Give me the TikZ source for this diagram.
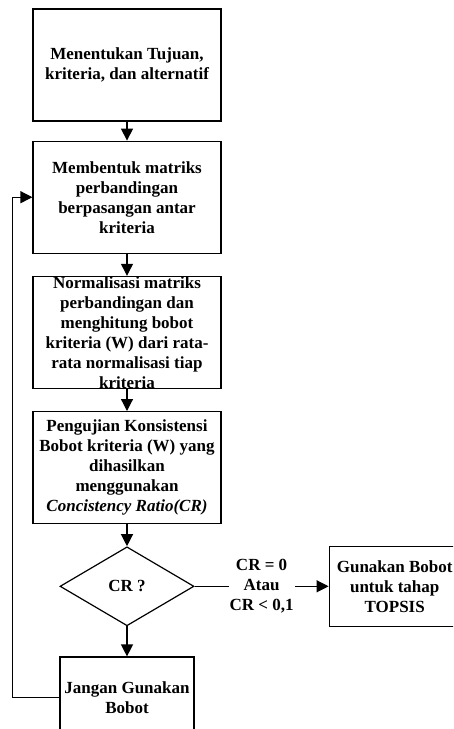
\documentclass[tikz,border=0pt]{standalone}
\usepackage{fontspec}
\setmainfont{Liberation Serif}
\usepackage{tikz}
\usetikzlibrary{positioning, shapes.geometric, arrows.meta}
\tikzstyle{process} = [rectangle, minimum width=188pt, minimum height=112pt, inner sep=0pt, text centered, draw=black, line width=1.2pt]
\tikzstyle{smallbox} = [rectangle, minimum width=134pt, minimum height=81pt, inner sep=0pt, text centered, draw=black, line width=1.2pt]
\tikzstyle{decision} = [diamond, aspect=1.7, minimum width=134pt, minimum height=79pt, inner sep=0pt, text centered, draw=black, line width=1.2pt]
\tikzstyle{plain} = [inner sep=0pt, align=center]
\tikzstyle{arrow} = [line width=1.2pt, -{Triangle[length=12pt, width=12pt]}]

\begin{document}
\begin{tikzpicture}[x=1pt, y=-1pt, font=\fontsize{17}{20}\selectfont\bfseries, align=center]
		
		\useasboundingbox (0,0) rectangle (453,729);
		\clip (0,0) rectangle (453,729);
		
		% Nodes
		\node (goal) [process] at (127,65) {Menentukan Tujuan,\\kriteria, dan alternatif};
		\node (pair) [process, below=19pt of goal] {Membentuk matriks\\perbandingan\\berpasangan antar\\kriteria};
		\node (norm) [process, below=22pt of pair] {};
		\node [plain] at (norm) {Normalisasi matriks\\perbandingan dan\\menghitung bobot\\kriteria (W) dari rata-\\rata normalisasi tiap\\kriteria}; % text overflows the box
		\node (cons) [process, below=22pt of norm] {Pengujian Konsistensi\\Bobot kriteria (W) yang\\dihasilkan\\menggunakan\\\textit{Concistency Ratio(CR)}};
		\node (check) [decision, below=22pt of cons] {CR ?};
		\node (reject) [smallbox, below=30pt of check] {Jangan Gunakan\\Bobot};
		\node (topsis) [smallbox, minimum width=131pt, minimum height=80pt, right=134pt of check] {Gunakan Bobot\\untuk tahap\\TOPSIS};
		
		% Arrows
		\draw [arrow] (goal) -- (pair);
		\draw [arrow] (pair) -- (norm);
		\draw [arrow] (norm) -- (cons);
		\draw [arrow] (cons) -- (check);
		\draw [arrow] (check) -- (reject);
		\draw [arrow] (check) -- node[fill=white, inner xsep=1pt, inner ysep=0pt] {CR = 0\\Atau\\CR < 0,1} (topsis);
		\draw [arrow] (reject.west) -- ++(-47,0) |- (pair.west);
		
	\end{tikzpicture}
\end{document}
